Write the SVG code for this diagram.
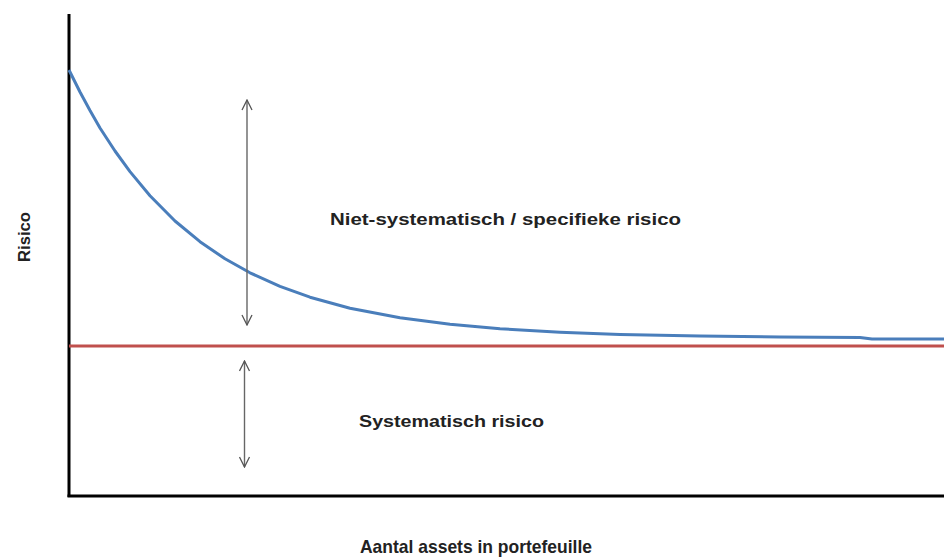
<svg xmlns="http://www.w3.org/2000/svg" width="944" height="558" viewBox="0 0 944 558">
  <defs>
    <marker id="head" viewBox="0 0 12 12" refX="11" refY="6" markerWidth="12" markerHeight="12" markerUnits="userSpaceOnUse" orient="auto-start-reverse">
      <path d="M1,1 L11,6 L1,11" fill="none" stroke="#555" stroke-width="1.3"/>
    </marker>
  </defs>
  <style>
    .lbl { font-family: "Liberation Sans", Arial, sans-serif; font-weight: bold; fill: #222; }
    .axis { stroke: #000; stroke-width: 3; fill: none; }
    .arr { stroke: #666; stroke-width: 1.4; fill: none; marker-start: url(#head); marker-end: url(#head); }
  </style>
  <rect width="944" height="558" fill="#fff"/>
  <g id="axes">
    <line class="axis" x1="69" y1="14" x2="69" y2="497"/>
    <line class="axis" x1="67.5" y1="496" x2="944" y2="496"/>
  </g>
  <g id="systematic-line">
    <line x1="69" y1="346" x2="944" y2="346" stroke="#c0504d" stroke-width="3"/>
  </g>
  <g id="total-risk-curve">
    <polyline fill="none" stroke="#4a7ebb" stroke-width="3" stroke-linejoin="round" points="69,70 80,92 90,110.5 100,128 115,151 130,171.6 150,195.7 175,221 200,241.7 225,258.8 250,272.8 280,286.4 310,297.2 350,308.2 400,317.8 450,324.3 500,328.7 560,332.2 620,334.4 700,336 780,337 860,337.5 872,339 944,339"/>
  </g>
  <g id="connectors">
    <line class="arr" x1="247" y1="100" x2="247" y2="325"/>
    <line class="arr" x1="244.5" y1="361" x2="244.5" y2="467"/>
  </g>
  <g id="label-unsystematic">
    <text class="lbl" x="330" y="225" font-size="16.5" textLength="351" lengthAdjust="spacingAndGlyphs">Niet-systematisch / specifieke risico</text>
  </g>
  <g id="label-systematic">
    <text class="lbl" x="359" y="427" font-size="16.5" textLength="185" lengthAdjust="spacingAndGlyphs">Systematisch risico</text>
  </g>
  <g id="label-x">
    <text class="lbl" x="360" y="553" font-size="19" textLength="232" lengthAdjust="spacingAndGlyphs">Aantal assets in portefeuille</text>
  </g>
  <g id="label-y">
    <text class="lbl" transform="translate(30,262) rotate(-90)" x="0" y="0" font-size="17" textLength="50" lengthAdjust="spacingAndGlyphs">Risico</text>
  </g>
</svg>
